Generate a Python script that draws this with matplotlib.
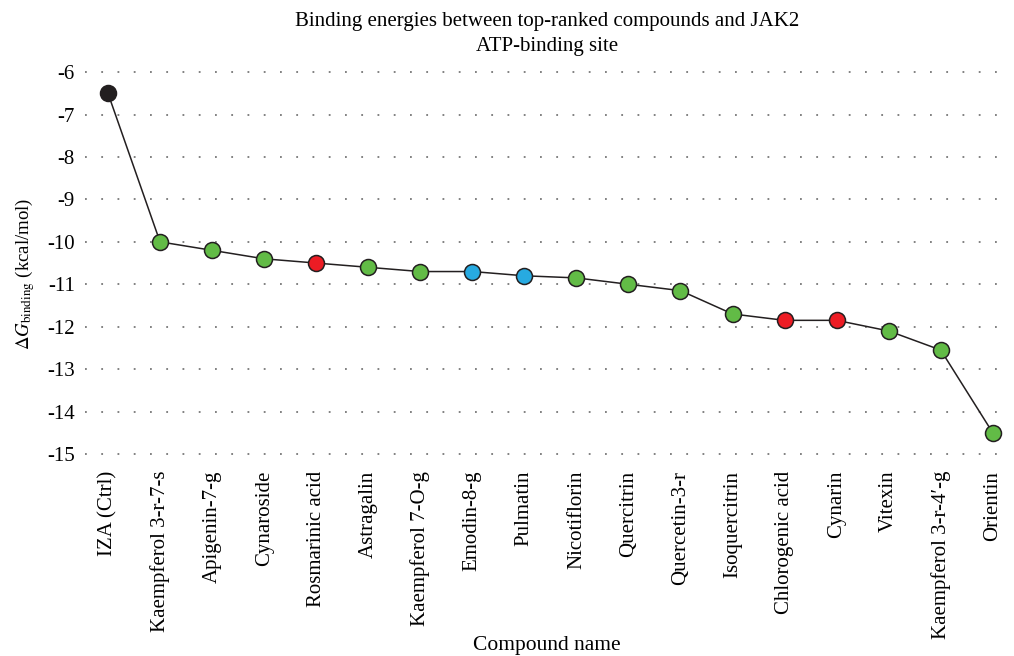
import matplotlib
matplotlib.use("Agg")
import matplotlib.pyplot as plt

# Docking results for the JAK2 ATP-binding site
compounds = [
    "IZA (Ctrl)", "Kaempferol 3-r-7-s", "Apigenin-7-g", "Cynaroside",
    "Rosmarinic acid", "Astragalin", "Kaempferol 7-O-g", "Emodin-8-g",
    "Pulmatin", "Nicotiflorin", "Quercitrin", "Quercetin-3-r",
    "Isoquercitrin", "Chlorogenic acid", "Cynarin", "Vitexin",
    "Kaempferol 3-r-4\u2032-g", "Orientin",
]
dg_binding = [-6.5, -10.0, -10.2, -10.4, -10.5, -10.6, -10.7, -10.7,
              -10.8, -10.85, -11.0, -11.15, -11.7, -11.85, -11.85,
              -12.1, -12.55, -14.5]
groups = ["ctrl", "g", "g", "g", "r", "g", "g", "b", "b", "g", "g", "g",
          "g", "r", "r", "g", "g", "g"]
yticks = [-6, -7, -8, -9, -10, -11, -12, -13, -14, -15]

group_colors = {"ctrl": "#231f20", "g": "#62bb46", "r": "#ed1c24", "b": "#27aae1"}

plt.rcParams["font.family"] = ["Liberation Serif", "DejaVu Serif"]
plt.rcParams["mathtext.fontset"] = "stix"
plt.rcParams["axes.unicode_minus"] = False

fig = plt.figure(figsize=(10.14, 6.56), dpi=100)
ax = fig.add_axes([0.0834, 0.295, 0.9126, 0.608])

x = list(range(len(compounds)))
ax.plot(x, dg_binding, color="#231f20", linewidth=1.1, zorder=2)
for xi, yi, g in zip(x, dg_binding, groups):
    ax.plot(xi, yi, "o", markersize=11.5, markerfacecolor=group_colors[g],
            markeredgecolor="#231f20", markeredgewidth=1.1, zorder=3)

ax.set_xlim(-0.45, 17.33)
ax.set_ylim(-15.2, -5.8)
ax.set_yticks(yticks)
ax.set_yticklabels([str(v) for v in yticks], fontsize=15)
ax.set_xticks(x)
ax.set_xticklabels(compounds, rotation=90, fontsize=15, va="top")
ax.tick_params(axis="both", length=0, pad=6)
ax.tick_params(axis="y", pad=7)

ax.yaxis.grid(True, linestyle=(0, (1, 8)), color="#777777", linewidth=1.3)
ax.xaxis.grid(False)
ax.set_axisbelow(True)
for s in ax.spines.values():
    s.set_visible(False)

ax.set_ylabel(r"$\Delta G_{\mathrm{binding}}$ (kcal/mol)", fontsize=13.5, va="center")
ax.yaxis.set_label_coords(-0.064, 0.473)
ax.set_xlabel("Compound name", fontsize=15.5, va="center")
ax.xaxis.set_label_coords(0.5, -0.458)
ax.set_title("Binding energies between top-ranked compounds and JAK2\nATP-binding site",
             fontsize=15, pad=9, linespacing=1.45)

fig.savefig("out.png", dpi=100)
